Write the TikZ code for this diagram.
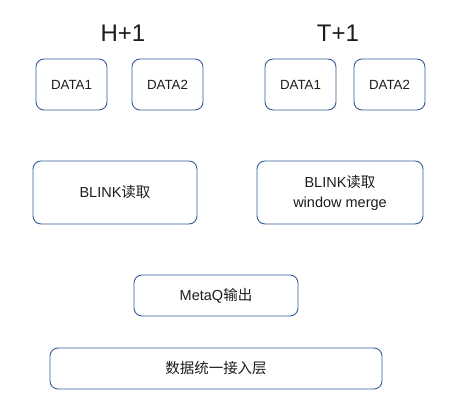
\documentclass[tikz,border=0pt]{standalone}
\usepackage{fontspec}
\setmainfont{Liberation Sans}
\newfontfamily\cjk{Noto Sans CJK SC}
\definecolor{boxblue}{RGB}{52,92,150}
\definecolor{txtgray}{RGB}{28,28,28}
\tikzset{
  flowbox/.style={draw=boxblue, line width=0.9pt, rounded corners=8pt,
    inner sep=0pt, outer sep=0pt, text=txtgray, align=center,
    font=\fontsize{14.5}{20}\selectfont},
  databox/.style={flowbox, minimum width=71pt, minimum height=51pt,
    font=\fontsize{13.3}{16}\selectfont},
  title/.style={text=txtgray, font=\fontsize{24}{28}\selectfont}
}
\begin{document}
\begin{tikzpicture}[x=1pt,y=-1pt]

\useasboundingbox (0,0) rectangle (467,418);

% time labels
\node[title] (hlabel) at (123,33) {H+1};
\node[title] (tlabel) at (338,33) {T+1};

% data sources
\node[databox] (hdata1) at (71.5,84.5) {DATA1};
\node[databox] (hdata2) at (167.5,84.5) {DATA2};
\node[databox] (tdata1) at (300.5,84.5) {DATA1};
\node[databox] (tdata2) at (389.5,84.5) {DATA2};

% reading
\node[flowbox, minimum width=164pt, minimum height=63pt] (hread) at (115,192.5)
  {BLINK{\cjk 读取}};
\node[flowbox, minimum width=166pt, minimum height=63pt] (tread) at (340,192.5)
  {BLINK{\cjk 读取}\\window merge};

% output and access layer
\node[flowbox, minimum width=164pt, minimum height=41pt] (metaq) at (216,295.5)
  {MetaQ{\cjk 输出}};
\node[flowbox, minimum width=332pt, minimum height=41pt] (access) at (216,368.5)
  {{\cjk 数据统一接入层}};

\end{tikzpicture}
\end{document}
